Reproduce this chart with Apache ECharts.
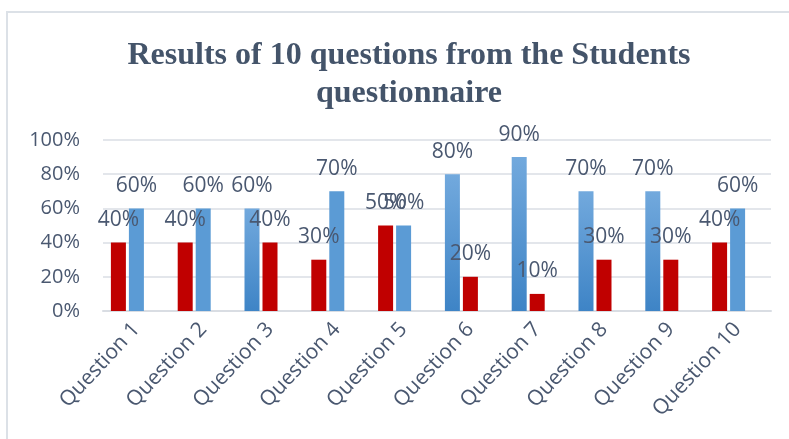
<!DOCTYPE html>
<html>
<head>
<meta charset="utf-8">
<script src="https://cdn.jsdelivr.net/npm/echarts@6/dist/echarts.min.js"></script>
<style>
	html, body { margin: 0; padding: 0; background: #fff; }
	#chart { width: 789px; height: 439px; }
</style>
</head>
<body>
<div id="chart"></div>
<script>
// categories and values (percent)
const questions = ['Question 1', 'Question 2', 'Question 3', 'Question 4', 'Question 5',
	'Question 6', 'Question 7', 'Question 8', 'Question 9', 'Question 10'];
const firstBarValues = [40, 40, 60, 30, 50, 80, 90, 70, 70, 40];
const secondBarValues = [60, 60, 40, 70, 50, 20, 10, 30, 30, 60];
const thirdBarValues = [];
const yTicks = [0, 20, 40, 60, 80, 100];

const textColor = '#4A5870';
const red = '#C00000';
const blueFlat = '#5B9BD5';
const blueGradient = new echarts.graphic.LinearGradient(0, 0, 0, 1, [
	{ offset: 0, color: '#72A9DD' },
	{ offset: 1, color: '#3E84C6' }
]);

const labelStyle = {
	show: true,
	position: 'top',
	distance: 12,
	formatter: '{c}%',
	fontFamily: 'Open Sans',
	fontSize: 21,
	color: textColor
};

const myChart = echarts.init(document.getElementById('chart'));
const option = {
	animation: false,
	title: {
		text: 'Results of 10 questions from the Students\nquestionnaire',
		left: 404,
		textAlign: 'center',
		top: 32,
		textStyle: {
			fontFamily: 'Liberation Serif',
			fontWeight: 'bold',
			fontSize: 32,
			lineHeight: 38,
			color: '#44546A'
		}
	},
	graphic: [
		{
			type: 'rect',
			shape: { x: 7, y: 12, width: 800, height: 440 },
			style: { fill: 'none', stroke: '#DCE1E7', lineWidth: 2 },
			silent: true
		}
	],
	grid: { left: 103, right: 18, top: 140, bottom: 128 },
	xAxis: {
		type: 'category',
		data: questions,
		axisLine: { lineStyle: { color: '#D9DDE3', width: 2 } },
		axisTick: { show: false },
		axisLabel: {
			rotate: 47,
			margin: 15,
			fontFamily: 'Open Sans',
			fontSize: 21,
			color: textColor
		}
	},
	yAxis: {
		type: 'value',
		min: yTicks[0],
		max: yTicks[yTicks.length - 1],
		interval: yTicks[1] - yTicks[0],
		axisLine: { show: false },
		axisTick: { show: false },
		splitLine: { lineStyle: { color: '#E3E6EB', width: 2 } },
		axisLabel: {
			formatter: '{value}%',
			margin: 23,
			fontFamily: 'Open Sans',
			fontSize: 20,
			color: textColor
		}
	},
	series: [
		{
			type: 'bar',
			data: firstBarValues.map((value, index) => ({
				value,
				itemStyle: { color: value > secondBarValues[index] ? blueGradient : red }
			})),
			barWidth: 15,
			barGap: '20%',
			label: labelStyle
		},
		{
			type: 'bar',
			data: secondBarValues.map((value, index) => ({
				value,
				itemStyle: { color: value >= firstBarValues[index] ? blueFlat : red }
			})),
			barWidth: 15,
			barGap: '20%',
			label: labelStyle
		},
		{
			type: 'bar',
			data: thirdBarValues,
			barWidth: 15,
			barGap: '20%'
		}
	]
};
myChart.setOption(option, true);
</script>
</body>
</html>
